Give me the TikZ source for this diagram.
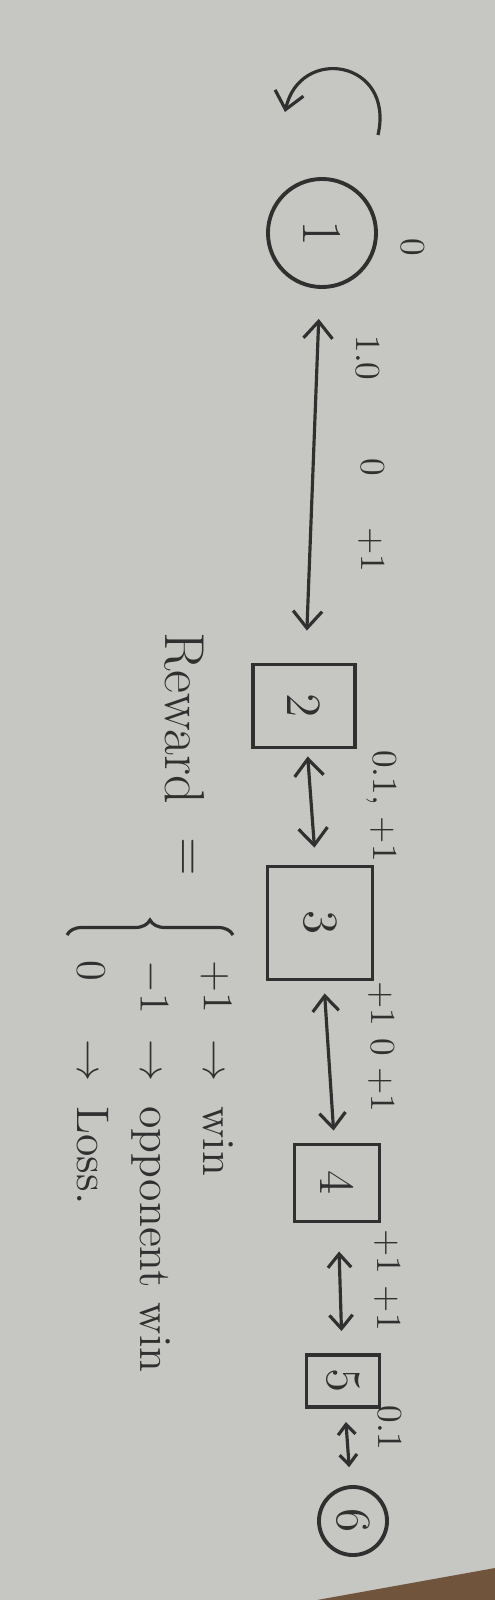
\documentclass[tikz,border=0pt]{standalone}
\usepackage{amsmath}
\usepackage{tikz}
\usetikzlibrary{arrows.meta, decorations.pathreplacing}
\usepackage{xcolor}

\definecolor{paper}{RGB}{198,198,194}
\definecolor{ink}{RGB}{48,48,48}
\definecolor{tabletop}{RGB}{112,84,60}

\tikzset{
  state/.style={draw=ink, line width=1.1pt, rotate=-90, inner sep=0pt, text=ink, font=\fontsize{14}{16}\selectfont},
  box/.style={state, rectangle},
  ring/.style={state, circle},
  lbl/.style={rotate=-90, inner sep=1pt, text=ink, font=\fontsize{10}{12}\selectfont},
  link/.style={draw=ink, line width=0.9pt, {Straight Barb[length=1.7mm,width=2.9mm,scale=#1]}-{Straight Barb[length=1.7mm,width=2.9mm,scale=#1]}},
  link/.default=1
}

\begin{document}
\begin{tikzpicture}[x=0.01cm, y=-0.01cm]
  \fill[paper] (0,0) rectangle (495,1600);
  \useasboundingbox (0,0) rectangle (495,1600);
  \fill[tabletop] (317,1600) -- (495,1568) -- (495,1600) -- cycle;

  % States
  \node[ring, minimum size=1.08cm, font=\fontsize{16}{18}\selectfont] (s1) at (322,233) {1};
  \node[box, minimum width=0.83cm, minimum height=1.02cm] (s2) at (304,706) {2};
  \node[box, minimum width=1.13cm, minimum height=1.05cm] (s3) at (320,923) {3};
  \node[box, minimum width=0.77cm, minimum height=0.85cm] (s4) at (337,1183) {4};
  \node[box, minimum width=0.52cm, minimum height=0.73cm] (s5) at (343,1381) {5};
  \node[ring, minimum size=0.68cm] (s6) at (353,1521) {6};

  % Rewards written next to the states and arrows
  \node[lbl] (r1) at (413,247) {0};
  \node[lbl] (r12a) at (368,358) {1.0};
  \node[lbl] (r12b) at (373,467) {0};
  \node[lbl] (r12c) at (372,550) {+1};
  \node[lbl] (r23) at (382,806) {0.1, +1};
  \node[lbl] (r34) at (382,1047) {+1 0 +1};
  \node[lbl] (r45) at (388,1280) {+1 +1};
  \node[lbl] (r56) at (390,1428) {0.1};

  % Self loop on the start state
  \coordinate (loopa) at (378,135);
  \coordinate (loopb) at (285,112);
  \draw[ink, line width=0.9pt, -{Straight Barb[length=1.7mm,width=2.9mm]}] (loopa) .. controls (395,60) and (300,45) .. (loopb);

  % Double arrows between the states
  \foreach \a/\b/\ga/\gb/\tip in {1/2/0.30/0.32/1, 2/3/0.07/0.17/1, 3/4/0.12/0.12/0.9, 4/5/0.28/0.22/0.8, 5/6/0.13/0.18/0.6}
  {
    \draw[link=\tip, shorten <=\ga cm, shorten >=\gb cm] (s\a) -- (s\b);
  }

  % Reward definition
  \node[lbl, font=\fontsize{16}{18}\selectfont] (rew) at (185,718) {Reward};
  \node[lbl, font=\fontsize{14}{16}\selectfont] (eq) at (185,857) {$=$};
  \coordinate (bra) at (67,935);
  \coordinate (brb) at (233,935);
  \draw[ink, line width=0.9pt, decorate, decoration={brace, amplitude=0.15cm}] (bra) -- (brb);
  \node[lbl, anchor=north west, inner sep=0pt, font=\fontsize{13}{18}\selectfont] (cases) at (249,960)
    {\begin{tabular}{@{}l@{\hspace{0.25cm}}c@{\hspace{0.25cm}}l@{}}
      $+1$ & $\rightarrow$ & win\\
      $-1$ & $\rightarrow$ & opponent win\\
      $0$ & $\rightarrow$ & Loss.
     \end{tabular}};
\end{tikzpicture}
\end{document}
